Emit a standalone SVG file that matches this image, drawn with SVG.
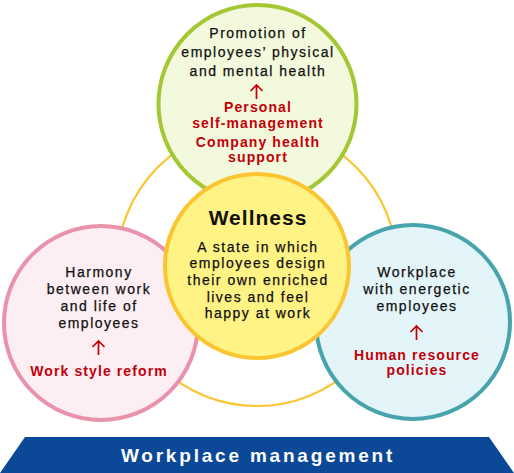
<svg xmlns="http://www.w3.org/2000/svg" width="514" height="473" viewBox="0 0 514 473">
<style>
.t{font-family:"Liberation Sans",Arial,sans-serif;font-size:14px;fill:#111;text-anchor:middle;letter-spacing:1.5px;stroke:#111;stroke-width:0.25px}
.r{font-family:"Liberation Sans",Arial,sans-serif;font-size:14px;font-weight:bold;fill:#c1000a;text-anchor:middle;letter-spacing:1.1px}
.arr{fill:none;stroke:#c1000a;stroke-width:1.7;stroke-linecap:butt}
</style>
<rect width="514" height="473" fill="#fff"/>
<g id="connectors">
<circle cx="257" cy="266" r="140" fill="none" stroke="#fbc531" stroke-width="2.2"/>
</g>
<g id="node-top">
<circle cx="257.5" cy="104" r="99" fill="#f3f9dc" stroke="#a3c834" stroke-width="4"/>
<text class="t" x="258" y="38">Promotion of</text>
<text class="t" x="258" y="57">employees’ physical</text>
<text class="t" x="258" y="76">and mental health</text>
<path class="arr" d="M256.5 99V85M250.5 91L256.5 85L262.5 91"/>
<text class="r" x="258" y="112">Personal</text>
<text class="r" x="258" y="128">self-management</text>
<text class="r" x="258" y="147">Company health</text>
<text class="r" x="258" y="162">support</text>
</g>
<g id="node-left">
<circle cx="101" cy="323" r="97" fill="#fdeef3" stroke="#e993aa" stroke-width="4"/>
<text class="t" x="99" y="277">Harmony</text>
<text class="t" x="99" y="294">between work</text>
<text class="t" x="99" y="311">and life of</text>
<text class="t" x="99" y="328">employees</text>
<path class="arr" d="M98.5 355V341M92.5 347L98.5 341L104.5 347"/>
<text class="r" x="99" y="376">Work style reform</text>
</g>
<g id="node-right">
<circle cx="413" cy="322" r="97" fill="#e3f5f8" stroke="#47a4ad" stroke-width="4"/>
<text class="t" x="417" y="277">Workplace</text>
<text class="t" x="417" y="294">with energetic</text>
<text class="t" x="417" y="311">employees</text>
<path class="arr" d="M416.5 340V326M410.5 332L416.5 326L422.5 332"/>
<text class="r" x="417" y="360">Human resource</text>
<text class="r" x="417" y="375">policies</text>
</g>
<g id="node-center">
<circle cx="257" cy="266" r="92" fill="#fff385" stroke="#fbc531" stroke-width="4"/>
<text x="258" y="225" style="font-family:'Liberation Sans',Arial,sans-serif;font-size:21px;font-weight:bold;fill:#111;text-anchor:middle;letter-spacing:1px">Wellness</text>
<text class="t" x="258" y="252">A state in which</text>
<text class="t" x="258" y="268">employees design</text>
<text class="t" x="258" y="285">their own enriched</text>
<text class="t" x="258" y="302">lives and feel</text>
<text class="t" x="258" y="318">happy at work</text>
</g>
<g id="banner">
<polygon points="25,437 489,437 514,473 0,473" fill="#0b4898"/>
<text x="258" y="462" style="font-family:'Liberation Sans',Arial,sans-serif;font-size:19px;font-weight:bold;fill:#fff;text-anchor:middle;letter-spacing:2.8px">Workplace management</text>
</g>
</svg>
